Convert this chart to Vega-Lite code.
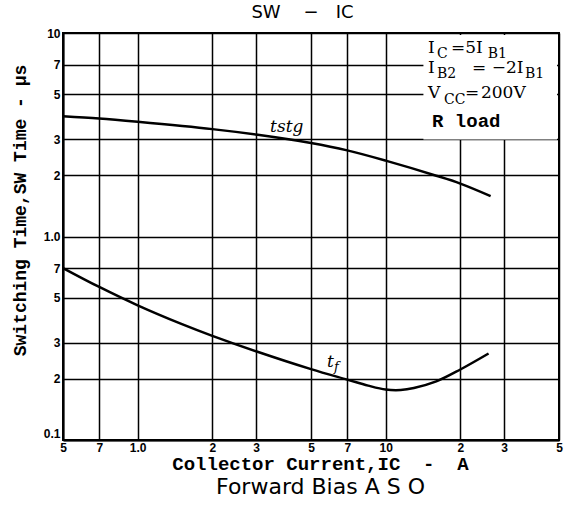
{
  "$schema": "https://vega.github.io/schema/vega-lite/v6.json",
  "width": 496,
  "height": 407,
  "autosize": {"type": "none"},
  "padding": {"left": 63, "top": 33, "right": 10, "bottom": 78},
  "background": "white",
  "config": {
    "view": {"stroke": "black", "strokeWidth": 2},
    "axis": {
      "gridColor": "black",
      "gridWidth": 1.5,
      "gridOpacity": 1,
      "domainColor": "black",
      "domainWidth": 2,
      "ticks": false,
      "labelFont": "Liberation Sans",
      "labelFontWeight": "bold",
      "labelColor": "black",
      "titleColor": "black"
    }
  },
  "datasets": {
    "curves": [
      {"series": "tstg", "x": 0.5, "y": 3.9},
      {"series": "tstg", "x": 0.7, "y": 3.8},
      {"series": "tstg", "x": 1.0, "y": 3.66},
      {"series": "tstg", "x": 2.0, "y": 3.37},
      {"series": "tstg", "x": 3.0, "y": 3.17},
      {"series": "tstg", "x": 5.0, "y": 2.88},
      {"series": "tstg", "x": 7.0, "y": 2.65},
      {"series": "tstg", "x": 10.0, "y": 2.36},
      {"series": "tstg", "x": 16.0, "y": 1.99},
      {"series": "tstg", "x": 20.0, "y": 1.82},
      {"series": "tstg", "x": 26.5, "y": 1.58},
      {"series": "tf", "x": 0.5, "y": 0.70},
      {"series": "tf", "x": 0.7, "y": 0.565},
      {"series": "tf", "x": 1.0, "y": 0.459},
      {"series": "tf", "x": 1.5, "y": 0.372},
      {"series": "tf", "x": 2.0, "y": 0.325},
      {"series": "tf", "x": 3.0, "y": 0.273},
      {"series": "tf", "x": 5.0, "y": 0.223},
      {"series": "tf", "x": 7.0, "y": 0.198},
      {"series": "tf", "x": 8.5, "y": 0.185},
      {"series": "tf", "x": 10.0, "y": 0.177},
      {"series": "tf", "x": 11.5, "y": 0.176},
      {"series": "tf", "x": 13.0, "y": 0.180},
      {"series": "tf", "x": 16.0, "y": 0.194},
      {"series": "tf", "x": 20.0, "y": 0.222},
      {"series": "tf", "x": 26.0, "y": 0.266}
    ],
    "box": [{"x": 14.2, "x2": 49.1, "y": 3.0, "y2": 9.77}],
    "mainText": [
      {"x": 14.82, "y": 7.975, "t": "I"},
      {"x": 18.34, "y": 7.975, "t": "=5I"},
      {"x": 14.82, "y": 6.36, "t": "I"},
      {"x": 22.3, "y": 6.36, "t": "= −2I"},
      {"x": 14.82, "y": 4.793, "t": "V"},
      {"x": 20.89, "y": 4.793, "t": "="},
      {"x": 24.23, "y": 4.793, "t": "200V"}
    ],
    "subText": [
      {"x": 16.11, "y": 7.536, "t": "C"},
      {"x": 25.8, "y": 7.536, "t": "B1"},
      {"x": 16.11, "y": 6.01, "t": "B2"},
      {"x": 36.47, "y": 6.01, "t": "B1"},
      {"x": 17.2, "y": 4.478, "t": "CC"}
    ],
    "loadText": [{"x": 15.38, "y": 3.452, "t": "R load"}],
    "curveLabels": [
      {"x": 3.42, "y": 3.26, "t": "tstg"},
      {"x": 5.8, "y": 0.2284, "t": "t"}
    ],
    "curveSub": [{"x": 6.19, "y": 0.2183, "t": "f"}]
  },
  "layer": [
    {
      "encoding": {
        "x": {
          "field": "x",
          "type": "quantitative",
          "scale": {"type": "log", "domain": [0.5, 50], "nice": false},
          "axis": {
            "values": [0.5, 0.7, 1, 2, 3, 5, 7, 10, 20, 30, 50],
            "labelExpr": "datum.value == 1 ? '1.0' : datum.value == 10 ? '10' : datum.value < 1 ? format(round(datum.value*10),'d') : datum.value > 10 ? format(round(datum.value/10),'d') : format(datum.value,'d')",
            "title": "Collector Current,IC\u00a0\u00a0-\u00a0\u00a0A",
            "titleFont": "Liberation Mono",
            "titleFontSize": 19,
            "titleFontWeight": "bold",
            "titleX": 257,
            "titleY": 29,
            "titleAlign": "center",
            "titleBaseline": "alphabetic",
            "labelPadding": 2,
            "labelFontSize": 12,
            "labelOverlap": false,
            "labelFlush": false,
            "labelBound": false,
            "grid": true
          }
        },
        "y": {
          "field": "y",
          "type": "quantitative",
          "scale": {"type": "log", "domain": [0.1, 10], "nice": false},
          "axis": {
            "values": [0.1, 0.2, 0.3, 0.5, 0.7, 1, 2, 3, 5, 7, 10],
            "labelExpr": "datum.value == 0.1 ? '0.1' : datum.value == 1 ? '1.0' : datum.value == 10 ? '10' : datum.value < 1 ? format(round(datum.value*10),'d') : format(datum.value,'d')",
            "labelBaseline": {"condition": {"test": "datum.value == 0.1", "value": "bottom"}, "value": "middle"},
            "title": "Switching Time,SW Time - μs",
            "titleFont": "Liberation Mono",
            "titleFontSize": 18,
            "titleFontWeight": "bold",
            "titleX": -43,
            "titleY": 177,
            "titleAlign": "center",
            "titleBaseline": "middle",
            "labelPadding": 3,
            "labelFontSize": 12,
            "labelOverlap": false,
            "labelFlush": false,
            "labelBound": false,
            "grid": true
          }
        }
      },
      "layer": [
        {
          "data": {"name": "box"},
          "mark": {"type": "rect", "fill": "white", "stroke": null},
          "encoding": {"x2": {"field": "x2"}, "y2": {"field": "y2"}}
        },
        {
          "data": {"name": "curves"},
          "mark": {"type": "line", "color": "black", "strokeWidth": 2.5, "interpolate": "catmull-rom"},
          "encoding": {"detail": {"field": "series"}}
        },
        {
          "data": {"name": "mainText"},
          "mark": {"type": "text", "font": "DejaVu Serif", "fontSize": 17, "align": "left", "baseline": "alphabetic", "color": "black"},
          "encoding": {"text": {"field": "t"}}
        },
        {
          "data": {"name": "subText"},
          "mark": {"type": "text", "font": "DejaVu Serif", "fontSize": 14, "align": "left", "baseline": "alphabetic", "color": "black"},
          "encoding": {"text": {"field": "t"}}
        },
        {
          "data": {"name": "loadText"},
          "mark": {"type": "text", "font": "Liberation Mono", "fontSize": 19, "fontWeight": "bold", "align": "left", "baseline": "alphabetic", "color": "black"},
          "encoding": {"text": {"field": "t"}}
        },
        {
          "data": {"name": "curveLabels"},
          "mark": {"type": "text", "font": "DejaVu Serif", "fontSize": 17, "fontStyle": "italic", "align": "left", "baseline": "alphabetic", "color": "black"},
          "encoding": {"text": {"field": "t"}}
        },
        {
          "data": {"name": "curveSub"},
          "mark": {"type": "text", "font": "DejaVu Serif", "fontSize": 13, "fontStyle": "italic", "align": "left", "baseline": "alphabetic", "color": "black"},
          "encoding": {"text": {"field": "t"}}
        }
      ]
    },
    {
      "data": {"name": "curves"},
      "mark": {"type": "point", "opacity": 0},
      "encoding": {
        "x": {
          "field": "x",
          "type": "quantitative",
          "scale": {"type": "log", "domain": [0.5, 50], "nice": false},
          "axis": {
            "orient": "top",
            "title": "SW\u00a0\u00a0\u00a0\u00a0−\u00a0\u00a0\u00a0IC",
            "labels": false,
            "ticks": false,
            "domain": false,
            "grid": false,
            "titleFont": "DejaVu Sans",
            "titleFontSize": 18,
            "titleFontWeight": "normal",
            "titleX": 239,
            "titleY": -16,
            "titleAlign": "center",
            "titleBaseline": "alphabetic"
          }
        },
        "y": {
          "field": "y",
          "type": "quantitative",
          "scale": {"type": "log", "domain": [0.1, 10], "nice": false},
          "axis": {
            "orient": "right",
            "title": "Forward Bias A\u00a0S\u00a0O",
            "labels": false,
            "ticks": false,
            "domain": false,
            "grid": false,
            "titleAngle": 0,
            "titleFont": "DejaVu Sans",
            "titleFontSize": 22,
            "titleFontWeight": "normal",
            "titleX": -239,
            "titleY": 460,
            "titleAlign": "center",
            "titleBaseline": "alphabetic"
          }
        }
      }
    }
  ],
  "resolve": {"axis": {"x": "independent", "y": "independent"}}
}
